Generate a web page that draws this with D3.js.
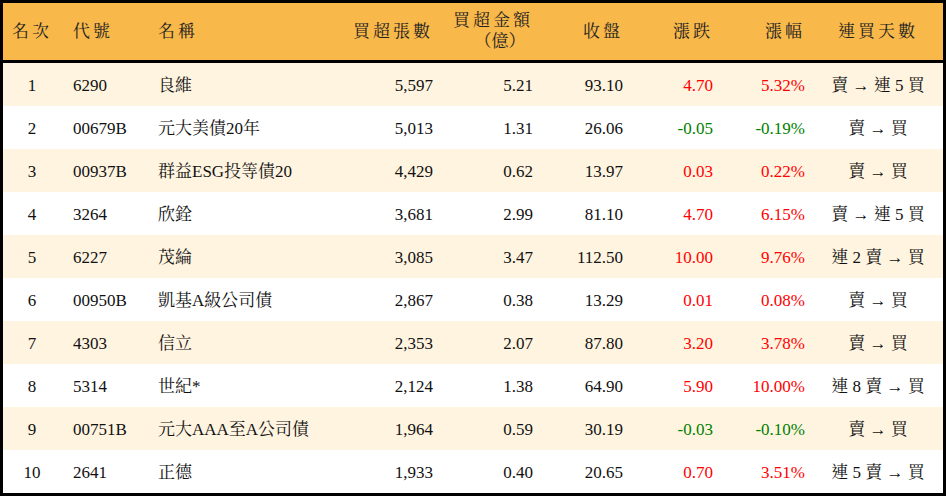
<!DOCTYPE html><html><head><meta charset="utf-8"><script src="https://cdn.jsdelivr.net/npm/d3@7"></script>
<style>body{margin:0;background:#fff}</style></head><body><svg id="c" width="946" height="496"></svg><script>
const ranks=[1,2,3,4,5,6,7,8,9,10];
const codes=["6290","00679B","00937B","3264","6227","00950B","4303","5314","00751B","2641"];
const names=["良維","元大美債20年","群益ESG投等債20","欣銓","茂綸","凱基A級公司債","信立","世紀*","元大AAA至A公司債","正德"];
const volumes=["5,597","5,013","4,429","3,681","3,085","2,867","2,353","2,124","1,964","1,933"];
const amounts=["5.21","1.31","0.62","2.99","3.47","0.38","2.07","1.38","0.59","0.40"];
const closes=["93.10","26.06","13.97","81.10","112.50","13.29","87.80","64.90","30.19","20.65"];
const changes=["4.70","-0.05","0.03","4.70","10.00","0.01","3.20","5.90","-0.03","0.70"];
const pcts=["5.32%","-0.19%","0.22%","6.15%","9.76%","0.08%","3.78%","10.00%","-0.10%","3.51%"];
const streaks=["賣 → 連 5 買","賣 → 買","賣 → 買","賣 → 連 5 買","連 2 賣 → 買","賣 → 買","賣 → 買","連 8 賣 → 買","賣 → 買","連 5 賣 → 買"];
const headers=["名次","代號","名稱","買超張數","買超金額","收盤","漲跌","漲幅","連買天數"];
const svg=d3.select("#c");
const W=946,H=496,headH=63;
const y=d3.scaleBand().domain(ranks).range([headH,493]);
const font="'Liberation Serif','Noto Serif CJK TC','Noto Sans CJK TC',serif";
svg.append("rect").attr("x",0).attr("y",0).attr("width",W).attr("height",headH).attr("fill","#F9B84A");
svg.selectAll("rect.r").data(ranks).join("rect").attr("x",0).attr("y",d=>y(d)).attr("width",W).attr("height",y.bandwidth()).attr("fill",d=>d%2?"#FFF4E0":"#fff");
const cols=[
 {x:32,a:"middle",v:ranks},{x:73,a:"start",v:codes},{x:158,a:"start",v:names},
 {x:433,a:"end",v:volumes},{x:533,a:"end",v:amounts},{x:623,a:"end",v:closes},
 {x:713,a:"end",v:changes,c:true},{x:805,a:"end",v:pcts,c:true},{x:878,a:"middle",v:streaks}];
const hx=[32,73,158,433,533,623,713,805,878];
headers.forEach((h,i)=>{
 const t=svg.append("text").attr("x",hx[i]).attr("text-anchor",cols[i].a).attr("font-family",font).attr("font-size",17).attr("letter-spacing",3).attr("fill","#222");
 if(i===4){t.attr("y",26).text(h);svg.append("text").attr("x",500).attr("y",47).attr("text-anchor","middle").attr("font-family",font).attr("font-size",17).attr("fill","#222").text("（億）");}
 else t.attr("y",37).text(h);
});
cols.forEach(col=>{
 svg.selectAll(null).data(ranks).join("text").attr("x",col.x).attr("y",d=>y(d)+y.bandwidth()/2+6)
 .attr("text-anchor",col.a).attr("font-family",font).attr("font-size",17)
 .attr("fill",(d,i)=>col.c?(col.v[i].startsWith("-")?"#008000":"#FF0000"):"#111")
 .text((d,i)=>col.v[i]);
});
svg.append("line").attr("x1",0).attr("x2",W).attr("y1",headH-1.5).attr("y2",headH-1.5).attr("stroke","#000").attr("stroke-width",3);
svg.append("rect").attr("x",1.5).attr("y",1.5).attr("width",W-3).attr("height",H-3).attr("fill","none").attr("stroke","#000").attr("stroke-width",3);
</script></body></html>
